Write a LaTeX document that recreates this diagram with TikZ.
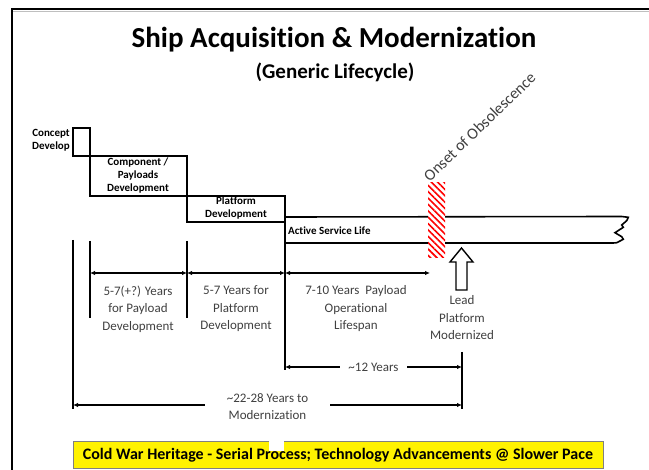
\documentclass[tikz,border=0pt]{standalone}
\usepackage{fontspec}
\setmainfont{Carlito}[Ligatures=NoCommon]
\usetikzlibrary{arrows.meta,patterns.meta}

\begin{document}
\begin{tikzpicture}[x=1pt,y=-1pt,
    box/.style={line width=1.6pt},
    boxtext/.style={font=\bfseries\fontsize{11}{13}\selectfont, align=center, inner sep=0pt},
    tick/.style={line width=1.6pt},
    dim/.style={line width=1.2pt, {Latex[length=5pt,width=4.5pt]}-{Latex[length=5pt,width=4.5pt]}},
    dimtext/.style={font=\fontsize{13}{17.5}\selectfont, text=darkgray, align=center}]
  \useasboundingbox (0,0) rectangle (649,470);

  % Slide frame
  \draw[gray!50, line width=1pt] (13,11.5) -- (650,11.5);
  \draw[line width=2pt] (12,471) -- (12,9) -- (650,9);

  % Title
  \node[font=\bfseries\fontsize{29}{34}\selectfont] (title) at (334,40) {Ship Acquisition \& Modernization};
  \node[font=\bfseries\fontsize{21}{24}\selectfont] (subtitle) at (335,72) {(Generic Lifecycle)};

  % Phase boxes
  \draw[box] (73,128) rectangle (90,156);
  \draw[box] (90,156) rectangle (187,196);
  \draw[box] (187,196) rectangle (285,222);
  \node[boxtext, anchor=east] (concept) at (70,140) {Concept\\Develop};
  \node[boxtext] (payloads) at (138,176) {Component /\\Payloads\\Development};
  \node[boxtext] (platform) at (236,208.5) {Platform\\Development};

  % Active service bar with torn end
  \draw[box] (285,217) -- (621.7,216.5) -- (628.3,217.3) -- (626.7,220.7) -- (621.7,225)
    -- (623.3,227.3) -- (615,232.7) -- (621.7,236.7) -- (623.3,239.3) -- (616.7,242.7)
    -- (613.3,243) -- (285,243);
  \node[boxtext, anchor=west] (service) at (288,231) {Active Service Life};

  % Obsolescence marker
  \fill[white] (428,183) rectangle (445,258);
  \fill[pattern={Lines[angle=-45,distance=4.5pt,line width=1.6pt]}, pattern color=red] (428,183) rectangle (445,258);
  \node[font=\fontsize{16}{19}\selectfont, text=darkgray, rotate=44, anchor=south west, inner sep=1pt] (onset) at (430,184) {Onset of Obsolescence};

  % Hollow arrow
  \draw[line width=1.4pt, fill=white] (461.5,248) -- (473,262) -- (467,262) -- (467,290)
    -- (456,290) -- (456,262) -- (450,262) -- cycle;
  \node[dimtext] (lead) at (462,318) {Lead\\Platform\\Modernized};

  % Extension lines
  \coordinate (a0) at (73,240);   \coordinate (a0b) at (73,409);
  \coordinate (a1) at (90,241);   \coordinate (a1b) at (90,318);
  \coordinate (a2) at (187,241);  \coordinate (a2b) at (187,318);
  \coordinate (a3) at (285,222);  \coordinate (a3b) at (285,370);
  \coordinate (a4) at (462,352);  \coordinate (a4b) at (462,409);
  \foreach \t in {0,...,4}
    \draw[tick] (a\t) -- (a\t b);

  % Durations
  \coordinate (p1) at (90,273);
  \coordinate (p2) at (187,273);
  \coordinate (p3) at (285,273);
  \coordinate (p4) at (430,273);
  \draw[dim] (p1) -- (p2);
  \draw[dim] (p2) -- (p3);
  \draw[dim] (p3) -- (p4);
  \node[dimtext] (payloadyrs) at (138,309) {5-7(+?) Years\\for Payload\\Development};
  \node[dimtext] (platformyrs) at (236,309) {5-7 Years for\\Platform\\Development};
  \node[dimtext] (lifespan) at (356,309) {7-10 Years\ \ Payload\\Operational\\Lifespan};

  \coordinate (q1) at (285,367);
  \coordinate (q2) at (462,367);
  \draw[dim] (q1) -- (q2) node[midway, dimtext, fill=white, inner xsep=8pt] (twelve) {\textasciitilde12 Years};

  \coordinate (r1) at (73,405);
  \coordinate (r2) at (462,405);
  \draw[dim] (r1) -- (r2) node[midway, dimtext, fill=white, inner xsep=22pt, yshift=-1.5pt] (total) {\textasciitilde22-28 Years to\\Modernization};

  % Banner
  \filldraw[fill=yellow, draw=gray, line width=0.6pt] (73,441) rectangle (603,468);
  \fill[white] (269,437) rectangle (284,451);
  \node[font=\bfseries\fontsize{16}{19}\selectfont] (banner) at (338,455) {Cold War Heritage - Serial Process; Technology Advancements @ Slower Pace};
\end{tikzpicture}
\end{document}
